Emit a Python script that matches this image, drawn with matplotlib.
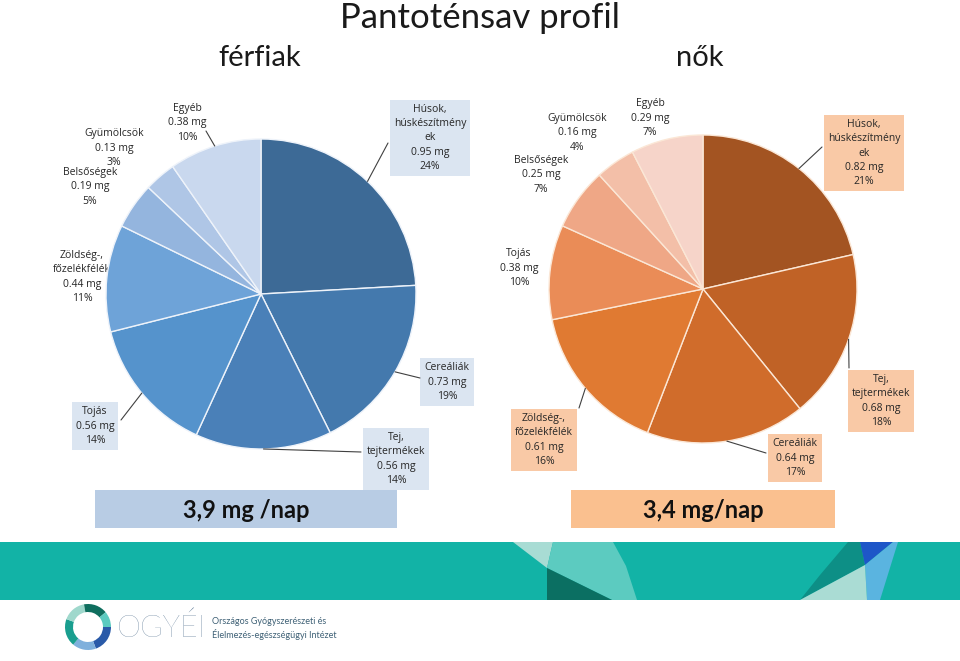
import numpy as np
import matplotlib.pyplot as plt
from matplotlib.patches import Rectangle, Polygon, Wedge

plt.rcParams['font.family'] = ['Lato', 'DejaVu Sans']
LABEL_FONT = ['Open Sans', 'DejaVu Sans']

# data
cats_f = ['Húsok,\nhúskészítmény\nek', 'Cereáliák', 'Tej,\ntejtermékek', 'Tojás',
          'Zöldség-,\nfőzelékfélék', 'Belsőségek', 'Gyümölcsök', 'Egyéb']
mg_f = [0.95, 0.73, 0.56, 0.56, 0.44, 0.19, 0.13, 0.38]
pct_f = [24, 19, 14, 14, 11, 5, 3, 10]

cats_n = ['Húsok,\nhúskészítmény\nek', 'Tej,\ntejtermékek', 'Cereáliák',
          'Zöldség-,\nfőzelékfélék', 'Tojás', 'Belsőségek', 'Gyümölcsök', 'Egyéb']
mg_n = [0.82, 0.68, 0.64, 0.61, 0.38, 0.25, 0.16, 0.29]
pct_n = [21, 18, 17, 16, 10, 7, 4, 7]

total_f = '3,9 mg /nap'
total_n = '3,4 mg/nap'

col_f = ['#3d6a96', '#4479ad', '#4a80b8', '#5593cc', '#6ea3d8', '#94b5de', '#afc6e6', '#c9d8ee']
col_n = ['#a35422', '#c06226', '#d06c2b', '#e07a32', '#ea8c57', '#efa786', '#f3bfa8', '#f6d4c9']

W, H = 960, 661
fig = plt.figure(figsize=(9.6, 6.61), dpi=100)
bg = fig.add_axes([0, 0, 1, 1])
bg.set_xlim(0, W)
bg.set_ylim(H, 0)
bg.axis('off')

# titles
bg.text(480, 18, 'Pantoténsav profil', ha='center', va='center', fontsize=25, color='#1a1a1a')
bg.text(260, 58, 'férfiak', ha='center', va='center', fontsize=21, color='#1a1a1a')
bg.text(700, 58, 'nők', ha='center', va='center', fontsize=21, color='#1a1a1a')

# total boxes
bg.add_patch(Rectangle((95, 490), 302, 38, fc='#b8cce4', ec='none'))
bg.text(246, 510, total_f, ha='center', va='center', fontsize=17, fontweight='bold', color='#111111')
bg.add_patch(Rectangle((571, 490), 264, 38, fc='#fac08f', ec='none'))
bg.text(703, 510, total_n, ha='center', va='center', fontsize=17, fontweight='bold', color='#111111')

# footer band
bg.add_patch(Rectangle((0, 542), W, 58, fc='#12b3a6', ec='none'))
bg.add_patch(Polygon([(513, 542), (553, 542), (547, 568)], fc='#a8dcd4', ec='none'))
bg.add_patch(Polygon([(553, 542), (613, 542), (626, 566), (637, 600), (612, 600), (547, 568)],
                     fc='#5ccbc0', ec='none'))
bg.add_patch(Polygon([(547, 568), (612, 600), (547, 600)], fc='#0b6f62', ec='none'))
bg.add_patch(Polygon([(848, 542), (860, 542), (865, 565), (800, 600), (820, 575)], fc='#0d8f86', ec='none'))
bg.add_patch(Polygon([(860, 542), (893, 542), (865, 565)], fc='#1e56c8', ec='none'))
bg.add_patch(Polygon([(865, 565), (893, 542), (898, 542), (880, 600), (867, 600)], fc='#5ab4e0', ec='none'))
bg.add_patch(Polygon([(800, 600), (865, 565), (867, 600)], fc='#aadcd4', ec='none'))

# logo
ring = [(0, 70, '#2a5aa8'), (70, 130, '#7fb0dc'), (130, 200, '#1a9e8f'),
        (200, 260, '#9fd8cc'), (260, 320, '#0f6e5e'), (320, 360, '#5ccbc0')]
for t1, t2, c in ring:
    bg.add_patch(Wedge((88, 627), 23, t1, t2, width=8, fc=c, ec='none'))
bg.text(117, 628, 'OGYÉI', ha='left', va='center', fontsize=22, color='#557390', fontweight='light')
bg.text(212, 622, 'Országos Gyógyszerészeti és', ha='left', va='center', fontsize=6.5, color='#3f6176')
bg.text(212, 634, 'Élelmezés-egészségügyi Intézet', ha='left', va='center', fontsize=6.5, color='#3f6176')


def draw_pie(cx, cy, r, vals, colors, edge):
    ax = fig.add_axes([(cx - r) / W, (H - cy - r) / H, 2 * r / W, 2 * r / H])
    wedges, _ = ax.pie(vals, colors=colors, startangle=90, counterclock=False,
                       wedgeprops=dict(edgecolor=edge, linewidth=1))
    ax.set_xlim(-1, 1)
    ax.set_ylim(-1, 1)
    return ax, wedges


def label(ax, w, txt, pos, box, start):
    kw = dict(ha='center', va='center', fontsize=7.5, color='#262626', linespacing=1.4,
              zorder=5, family=LABEL_FONT)
    if box:
        kw['bbox'] = dict(boxstyle='square,pad=0.4', fc=box, ec='none')
    bg.text(pos[0], pos[1], txt, **kw)
    if start:
        th = np.deg2rad((w.theta1 + w.theta2) / 2)
        ax.annotate('', xy=(np.cos(th), np.sin(th)), xycoords='data',
                    xytext=start, textcoords=bg.transData, annotation_clip=False,
                    arrowprops=dict(arrowstyle='-', color='#404040', lw=0.8,
                                    shrinkA=0, shrinkB=0))


ax_f, w_f = draw_pie(261, 294, 155, mg_f, col_f, '#eef3fa')
pos_f = [(430, 138), (447, 382), (396, 459), (95, 426), (82, 277), (90, 187), (114, 148), (187, 123)]
box_f = ['#dbe5f1', '#dbe5f1', '#dbe5f1', '#dbe5f1', None, None, None, None]
start_f = [(388, 143), (420, 378), (361, 452), (121, 420), None, None, None, (206, 131)]
for i in range(len(mg_f)):
    label(ax_f, w_f[i], '%s\n%.2f mg\n%d%%' % (cats_f[i], mg_f[i], pct_f[i]), pos_f[i], box_f[i], start_f[i])

ax_n, w_n = draw_pie(703, 289, 154, mg_n, col_n, '#fbe7d6')
pos_n = [(864, 153), (881, 401), (795, 458), (544, 440), (519, 268), (541, 175), (577, 133), (650, 118)]
box_n = ['#f9c9a6', '#f9c9a6', '#f9c9a6', '#f9c9a6', None, None, None, None]
start_n = [(822, 147), (849, 368), (766, 453), (579, 408), None, None, None, None]
for i in range(len(mg_n)):
    label(ax_n, w_n[i], '%s\n%.2f mg\n%d%%' % (cats_n[i], mg_n[i], pct_n[i]), pos_n[i], box_n[i], start_n[i])

fig.savefig('out.png', dpi=100)
